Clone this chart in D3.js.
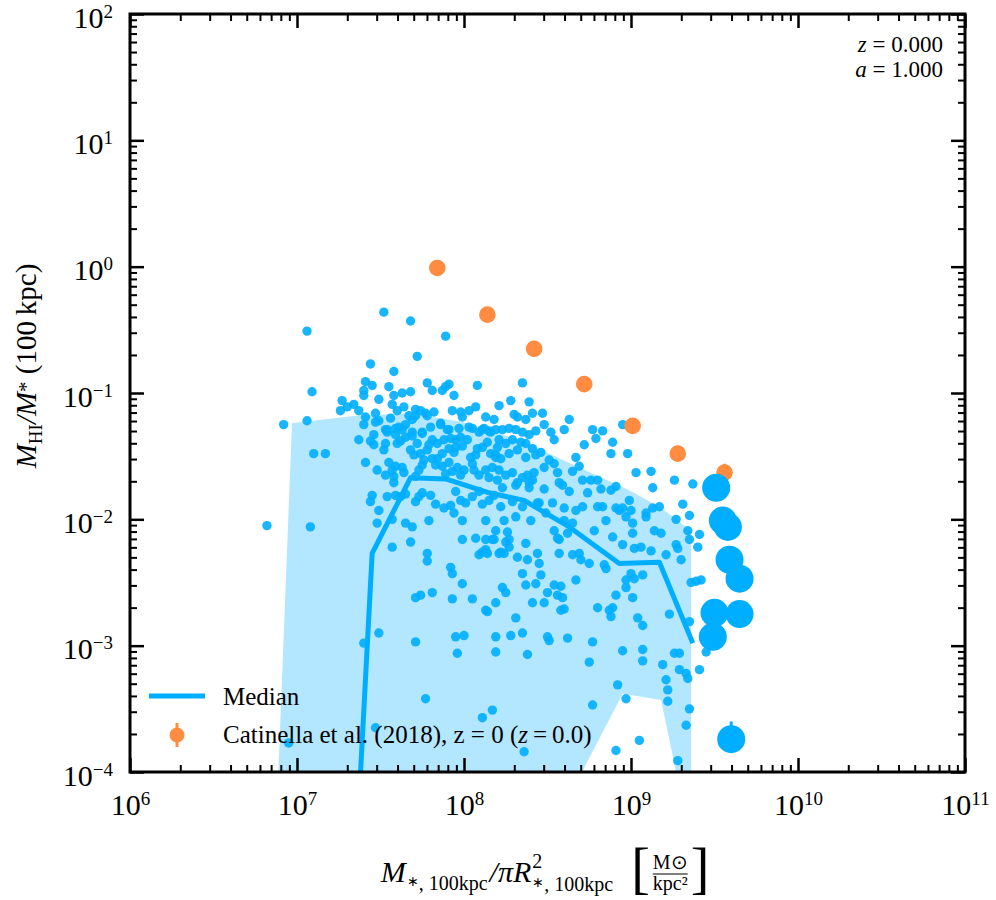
<!DOCTYPE html>
<html>
<head>
<meta charset="utf-8">
<script src="https://cdn.jsdelivr.net/npm/d3@7"></script>
<style>
  body { margin: 0; background: #fff; }
  text { font-family: "Liberation Serif", "Times New Roman", serif; fill: #000; }
</style>
</head>
<body>
<svg id="chart" width="996" height="900"></svg>
<script>
//All values are log10
//[log10 surface density, log10 HI fraction] for each galaxy
const galaxies = [
  [7.52,-0.36],[7.68,-0.43],[7.06,-0.51],[7.89,-0.55],[7.72,-0.71],[7.44,-0.77],[7.58,-0.83],[7.09,-0.99],
  [7.41,-0.91],[7.40,-0.98],[7.40,-1.02],[7.45,-0.94],[7.55,-0.95],[7.63,-1.00],[7.68,-0.99],[7.78,-0.92],
  [7.81,-0.98],[7.89,-0.95],[7.91,-0.93],[7.87,-0.98],[7.94,-1.02],[8.08,-0.94],[7.27,-1.06],[7.30,-1.11],
  [7.26,-1.14],[7.34,-1.09],[7.37,-1.14],[7.49,-1.05],[7.58,-1.02],[7.41,-1.19],[7.40,-1.25],[7.47,-1.16],
  [7.49,-1.22],[6.92,-1.25],[7.06,-1.22],[7.57,-1.09],[7.60,-1.14],[7.64,-1.11],[7.67,-1.18],[7.71,-1.13],
  [7.71,-1.18],[7.74,-1.14],[7.69,-1.21],[7.56,-1.20],[7.53,-1.29],[7.54,-1.31],[7.37,-1.37],[7.44,-1.38],
  [7.46,-1.33],[7.59,-1.33],[7.61,-1.27],[7.63,-1.29],[7.65,-1.35],[7.69,-1.34],[7.53,-1.40],[7.60,-1.40],
  [7.77,-1.16],[7.78,-1.18],[7.82,-1.15],[7.86,-1.25],[7.90,-1.29],[7.93,-1.14],[7.98,-1.15],[7.99,-1.19],
  [8.03,-1.14],[8.07,-1.11],[8.13,-1.19],[8.18,-1.21],[7.75,-1.32],[7.81,-1.37],[7.84,-1.40],[7.92,-1.36],
  [7.95,-1.37],[7.98,-1.35],[8.05,-1.28],[8.11,-1.29],[8.15,-1.30],[8.19,-1.29],[7.10,-1.48],[7.17,-1.48],
  [7.41,-1.55],[7.68,-1.45],[7.70,-1.49],[7.74,-1.48],[7.78,-1.45],[7.81,-1.52],[7.84,-1.52],[7.87,-1.48],
  [7.91,-1.44],[7.95,-1.43],[7.99,-1.42],[8.04,-1.51],[8.07,-1.49],[8.11,-1.43],[8.16,-1.48],[8.19,-1.51],
  [7.55,-1.55],[7.57,-1.61],[7.58,-1.66],[7.58,-1.71],[7.59,-1.58],[7.63,-1.59],[7.71,-1.66],[7.76,-1.53],
  [7.75,-1.57],[7.87,-1.58],[7.89,-1.64],[7.93,-1.62],[7.96,-1.59],[8.00,-1.61],[8.05,-1.56],[8.09,-1.65],
  [8.13,-1.61],[8.17,-1.59],[8.20,-1.69],[7.45,-1.81],[7.44,-1.86],[7.49,-1.93],[7.48,-2.03],[7.54,-1.82],
  [7.59,-1.81],[7.62,-1.82],[7.65,-1.80],[7.71,-1.86],[7.73,-1.82],[7.75,-1.79],[7.80,-1.81],[7.83,-1.88],
  [7.88,-1.91],[7.92,-1.89],[7.95,-1.78],[7.98,-1.85],[8.01,-1.87],[8.05,-1.82],[8.09,-1.78],[8.11,-1.88],
  [8.15,-1.85],[8.18,-1.81],[7.57,-2.00],[7.65,-2.03],[7.69,-2.06],[7.79,-2.01],[7.94,-1.95],[7.99,-2.01],
  [8.07,-2.15],[8.13,-2.16],[8.17,-2.16],[7.99,-2.16],[7.68,-2.18],[7.57,-2.22],[6.82,-2.05],[7.08,-2.06],
  [8.35,-0.92],[8.28,-1.06],[8.39,-1.07],[8.41,-1.16],[8.32,-1.19],[8.37,-1.21],[8.23,-1.29],[8.27,-1.28],
  [8.31,-1.29],[8.35,-1.31],[8.39,-1.33],[8.43,-1.30],[8.21,-1.37],[8.25,-1.40],[8.29,-1.37],[8.34,-1.39],
  [8.37,-1.40],[8.41,-1.44],[8.19,-1.49],[8.22,-1.52],[8.27,-1.48],[8.32,-1.45],[8.37,-1.51],[8.43,-1.49],
  [8.21,-1.61],[8.25,-1.65],[8.29,-1.63],[8.35,-1.67],[8.38,-1.65],[8.41,-1.69],[8.23,-1.75],[8.31,-1.73],
  [8.39,-1.75],[8.22,-1.90],[8.29,-1.86],[8.35,-1.90],[8.44,-1.87],[8.24,-2.01],[8.31,-1.98],[8.40,-2.01],
  [8.26,-2.10],[8.37,-2.19],[8.27,-2.22],[8.22,-2.26],[8.24,-2.27],[8.47,-1.16],[8.63,-1.21],[8.52,-1.31],
  [8.77,-1.29],[8.83,-1.30],[8.79,-1.36],[8.95,-1.25],[8.89,-1.39],[8.88,-1.48],[8.98,-1.48],[9.03,-1.63],
  [9.12,-1.62],[9.13,-1.75],[9.26,-1.69],[9.37,-1.72],[8.46,-1.47],[8.51,-1.53],[8.54,-1.56],[8.48,-1.59],
  [8.56,-1.63],[8.65,-1.62],[8.67,-1.51],[8.69,-1.58],[8.42,-1.63],[8.32,-1.71],[8.39,-1.71],[8.57,-1.71],
  [8.63,-1.78],[8.59,-1.73],[8.48,-1.76],[8.71,-1.69],[8.76,-1.69],[8.80,-1.69],[8.74,-1.79],[8.82,-1.76],
  [8.88,-1.77],[8.91,-1.74],[8.99,-1.85],[8.95,-1.91],[9.00,-1.93],[9.13,-1.91],[9.17,-1.90],[9.09,-1.95],
  [9.31,-1.88],[9.35,-1.97],[9.27,-2.00],[9.41,-2.12],[8.67,-1.93],[8.71,-1.90],[8.80,-1.90],[8.83,-1.90],
  [8.91,-1.91],[8.93,-1.93],[8.97,-1.98],[9.01,-2.03],[8.60,-1.91],[8.60,-2.01],[8.65,-2.03],[8.54,-2.09],
  [8.56,-2.15],[8.62,-2.11],[8.49,-1.95],[8.45,-1.87],[8.53,-1.87],[8.78,-2.09],[8.85,-2.01],[8.89,-2.14],
  [9.01,-2.11],[9.09,-1.98],[9.14,-2.09],[9.18,-2.11],[9.27,-2.20],[9.34,-2.09],[9.35,-2.16],[8.13,-2.01],
  [8.19,-2.09],[8.27,-2.16],[9.40,-2.22],[8.18,-2.16],[8.13,-2.24],[8.25,-2.18],[8.32,-2.30],[8.44,-2.27],
  [8.38,-2.32],[8.35,-2.43],[8.45,-2.35],[8.46,-2.44],[8.57,-2.16],[8.57,-2.27],[8.65,-2.28],[8.69,-2.27],
  [8.75,-2.35],[8.70,-2.32],[8.95,-2.20],[9.02,-2.23],[9.06,-2.22],[9.12,-2.25],[9.21,-2.28],[9.28,-2.23],
  [9.30,-2.32],[8.84,-2.36],[8.85,-2.39],[9.00,-2.43],[9.02,-2.47],[9.07,-2.44],[8.97,-2.48],[8.67,-2.48],
  [8.91,-2.60],[8.97,-2.54],[9.01,-2.62],[8.13,-2.72],[8.23,-2.54],[8.25,-2.58],[8.31,-2.78],[8.37,-2.52],
  [8.43,-2.51],[8.41,-2.66],[8.48,-2.66],[8.50,-2.58],[8.54,-2.52],[8.58,-2.53],[8.56,-2.60],[8.58,-2.72],
  [8.60,-2.71],[8.59,-2.62],[8.80,-2.70],[8.87,-2.72],[8.88,-2.77],[8.89,-2.70],[9.04,-2.78],[9.07,-2.84],
  [9.23,-2.75],[9.35,-2.81],[9.36,-2.50],[9.39,-2.49],[9.42,-2.48],[8.19,-2.93],[8.28,-2.92],[8.35,-2.90],
  [8.50,-2.93],[8.51,-2.96],[8.62,-2.94],[8.77,-2.97],[8.19,-3.05],[8.38,-3.07],[8.75,-3.13],[8.95,-3.04],
  [9.07,-3.03],[9.07,-3.12],[9.19,-3.15],[9.26,-3.06],[9.29,-3.06],[9.29,-3.19],[9.33,-3.22],[9.34,-3.26],
  [9.21,-3.27],[9.22,-3.35],[9.22,-3.44],[9.41,-3.19],[9.45,-3.05],[8.92,-3.31],[8.97,-3.42],[8.77,-3.47],
  [8.17,-3.51],[8.11,-3.57],[9.05,-3.75],[8.91,-3.83],[9.35,-3.50],[9.33,-3.63],[9.28,-3.91],[8.36,-3.84],
  [7.78,-2.27],[7.78,-2.33],[8.11,-2.26],[8.14,-2.27],[8.09,-2.28],[8.21,-2.27],[7.92,-2.38],[7.93,-2.43],
  [7.99,-2.51],[8.05,-2.63],[7.93,-2.63],[7.81,-2.58],[7.71,-2.62],[7.74,-2.60],[8.14,-2.73],[8.19,-2.66],
  [7.49,-2.90],[7.40,-2.98],[7.71,-2.97],[7.95,-2.93],[8.00,-2.92],[7.96,-3.06],[7.77,-3.42],[7.47,-3.65],
  [6.95,-3.77],
  [7.47,-1.23],[7.54,-1.29],[7.59,-1.28],[7.65,-1.25],[7.69,-1.31],[7.75,-1.31],[7.80,-1.27],[7.86,-1.24],
  [7.91,-1.29],[7.97,-1.28],[8.03,-1.27],[8.09,-1.31],[8.12,-1.28],[8.16,-1.31],[7.46,-1.41],[7.52,-1.45],
  [7.62,-1.38],[7.72,-1.40],[7.79,-1.41],[7.88,-1.37],[7.94,-1.47],[8.02,-1.37],[8.08,-1.44],[8.14,-1.39],
  [8.20,-1.43],[7.48,-1.61],[7.53,-1.65],[7.64,-1.63],[7.73,-1.61],[7.83,-1.57],[7.91,-1.55],[7.98,-1.65],
  [8.06,-1.61],[8.15,-1.67],[8.21,-1.10],[8.30,-1.17],[8.48,-1.25],[8.54,-1.37],[8.60,-1.29],[8.72,-1.41]
];

//Median line (first bin drops far below the axis)
const medianX = [7.22, 7.45, 7.68, 7.89, 8.15, 8.36, 8.63, 8.93, 9.17, 9.37];
const medianY = [-8.00, -2.27, -1.67, -1.68, -1.79, -1.85, -2.06, -2.35, -2.34, -2.98];

//16-84 percentile band
const bandUpperX = [6.97, 7.35, 7.68, 7.99, 8.33, 8.69, 8.99, 9.18, 9.36];
const bandUpperY = [-1.24, -1.18, -1.16, -1.23, -1.37, -1.59, -1.77, -1.91, -2.09];
const bandLowerX = [6.77, 8.33, 8.55, 8.95, 9.18, 9.36];
const bandLowerY = [-8.00, -8.00, -4.40, -3.38, -3.43, -4.57];

//Catinella et al. (2018) observations
const catinellaX = [7.84, 8.14, 8.42, 8.72, 9.01, 9.28, 9.56];
const catinellaY = [-0.01, -0.38, -0.65, -0.93, -1.26, -1.48, -1.63];
const catinellaErr = [0.05, 0.05, 0.05, 0.05, 0.05, 0.05, 0.07];

//Galaxies beyond the last bin, drawn large
const bigX = [9.51, 9.55, 9.58, 9.59, 9.65, 9.50, 9.65, 9.49, 9.60];
const bigY = [-1.75, -2.01, -2.06, -2.32, -2.47, -2.74, -2.75, -2.93, -3.74];
const bigErrUp = [0, 0, 0, 0, 0, 0, 0, 0, 0.14];

//Tick decades
const xDecades = [6, 7, 8, 9, 10, 11];
const yDecades = [-4, -3, -2, -1, 0, 1, 2];

const blue = "#00aeff";
const orange = "#ff8c40";
const p10 = v => Math.pow(10, v);

//Creating the chart
const svg = d3.select("#chart");
const plotLeft = 130, plotRight = 965, plotTop = 14, plotBottom = 772;

const x = d3.scaleLog().domain([1e6, 1e11]).range([plotLeft, plotRight]);
const y = d3.scaleLog().domain([1e-4, 1e2]).range([plotBottom, plotTop]);

svg.append("rect").attr("width", 996).attr("height", 900).attr("fill", "#fff");

svg.append("clipPath").attr("id", "plotClip")
  .append("rect")
  .attr("x", plotLeft).attr("y", plotTop)
  .attr("width", plotRight - plotLeft).attr("height", plotBottom - plotTop);

const plot = svg.append("g").attr("clip-path", "url(#plotClip)");

//Shaded band: upper edge left to right, then lower edge back
const bandPts = bandUpperX.map((v, i) => [x(p10(v)), y(p10(bandUpperY[i]))])
  .concat(bandLowerX.map((v, i) => [x(p10(v)), y(p10(bandLowerY[i]))]).reverse());
plot.append("path")
  .attr("d", d3.line()(bandPts) + "Z")
  .attr("fill", blue)
  .attr("fill-opacity", 0.3);

//Scatter of galaxies
plot.selectAll("circle.gal")
  .data(galaxies)
  .join("circle")
  .attr("class", "gal")
  .attr("cx", d => x(p10(d[0])))
  .attr("cy", d => y(p10(d[1])))
  .attr("r", 4.7)
  .attr("fill", blue)
  .attr("fill-opacity", 0.9);

//Median line
plot.append("path")
  .datum(d3.range(medianX.length))
  .attr("d", d3.line().x(i => x(p10(medianX[i]))).y(i => y(p10(medianY[i]))))
  .attr("fill", "none")
  .attr("stroke", blue)
  .attr("stroke-width", 5)
  .attr("stroke-linejoin", "round");

//Observations with error bars
const cat = plot.append("g");
cat.selectAll("line")
  .data(d3.range(catinellaX.length))
  .join("line")
  .attr("x1", i => x(p10(catinellaX[i])))
  .attr("x2", i => x(p10(catinellaX[i])))
  .attr("y1", i => y(p10(catinellaY[i] - catinellaErr[i])))
  .attr("y2", i => y(p10(catinellaY[i] + catinellaErr[i])))
  .attr("stroke", orange)
  .attr("stroke-width", 3);
cat.selectAll("circle")
  .data(d3.range(catinellaX.length))
  .join("circle")
  .attr("cx", i => x(p10(catinellaX[i])))
  .attr("cy", i => y(p10(catinellaY[i])))
  .attr("r", 8.3)
  .attr("fill", orange);

//Large points
const big = plot.append("g");
big.selectAll("line")
  .data(d3.range(bigX.length).filter(i => bigErrUp[i] > 0))
  .join("line")
  .attr("x1", i => x(p10(bigX[i])))
  .attr("x2", i => x(p10(bigX[i])))
  .attr("y1", i => y(p10(bigY[i])))
  .attr("y2", i => y(p10(bigY[i] + bigErrUp[i])))
  .attr("stroke", blue)
  .attr("stroke-width", 3);
big.selectAll("circle")
  .data(d3.range(bigX.length))
  .join("circle")
  .attr("cx", i => x(p10(bigX[i])))
  .attr("cy", i => y(p10(bigY[i])))
  .attr("r", 14)
  .attr("fill", blue);

//Axes: inward ticks on all four sides
const minorOf = decades => decades.slice(0, -1)
  .flatMap(d => d3.range(2, 10).map(k => k * p10(d)));

function addAxis(axisFn, scale, values, size, strokeW, transform) {
  const g = svg.append("g")
    .attr("transform", transform)
    .call(axisFn(scale).tickValues(values).tickSize(-size).tickSizeOuter(0).tickFormat(""));
  g.select(".domain").remove();
  g.selectAll(".tick text").remove();
  g.selectAll(".tick line").attr("stroke", "#000").attr("stroke-width", strokeW);
  return g;
}

const xMajor = xDecades.map(p10), yMajor = yDecades.map(p10);
const xMinor = minorOf(xDecades), yMinor = minorOf(yDecades);

const xAxisG = addAxis(d3.axisBottom, x, xMajor, 14, 2.5, `translate(0,${plotBottom})`);
addAxis(d3.axisBottom, x, xMinor, 7, 2, `translate(0,${plotBottom})`);
addAxis(d3.axisTop, x, xMajor, 14, 2.5, `translate(0,${plotTop})`);
addAxis(d3.axisTop, x, xMinor, 7, 2, `translate(0,${plotTop})`);
const yAxisG = addAxis(d3.axisLeft, y, yMajor, 14, 2.5, `translate(${plotLeft},0)`);
addAxis(d3.axisLeft, y, yMinor, 7, 2, `translate(${plotLeft},0)`);
addAxis(d3.axisRight, y, yMajor, 14, 2.5, `translate(${plotRight},0)`);
addAxis(d3.axisRight, y, yMinor, 7, 2, `translate(${plotRight},0)`);

//Frame
svg.append("rect")
  .attr("x", plotLeft).attr("y", plotTop)
  .attr("width", plotRight - plotLeft).attr("height", plotBottom - plotTop)
  .attr("fill", "none")
  .attr("stroke", "#000")
  .attr("stroke-width", 3);

//Tick labels as 10 with a superscript exponent
const expText = d => {
  const e = Math.round(Math.log10(d));
  return e < 0 ? "\u2212" + Math.abs(e) : String(e);
};
function powerLabel(sel) {
  sel.append("tspan").text("10");
  sel.append("tspan").attr("dy", -10).attr("font-size", 19).text(d => expText(d));
}

xAxisG.selectAll(".tick").append("text")
  .attr("y", 43)
  .attr("text-anchor", "middle")
  .attr("font-size", 30)
  .call(powerLabel);

yAxisG.selectAll(".tick").append("text")
  .attr("x", -17)
  .attr("y", 13)
  .attr("text-anchor", "end")
  .attr("font-size", 30)
  .call(powerLabel);

//Y axis label
const yLab = svg.append("text")
  .attr("transform", "translate(36,366) rotate(-90)")
  .attr("text-anchor", "middle")
  .attr("font-size", 29);
yLab.append("tspan").attr("font-style", "italic").text("M");
yLab.append("tspan").attr("font-size", 19).attr("dy", 6).text("HI");
yLab.append("tspan").attr("font-style", "italic").attr("dy", -6).text("/M");
yLab.append("tspan").attr("font-size", 21).attr("dy", -3).text("*");
yLab.append("tspan").attr("dy", 3).text(" (100\u2009kpc)");

//X axis label, laid out piece by piece
const xLab = svg.append("g");
let cursor = 0;
function piece(txt, size, dy, italic) {
  const t = xLab.append("text")
    .attr("x", cursor).attr("y", dy)
    .attr("font-size", size)
    .attr("font-style", italic ? "italic" : "normal")
    .text(txt);
  cursor += t.node().getComputedTextLength();
  return t;
}
function stacked(topTxt, topDy, botTxt, botDy, size, center) {
  const a = xLab.append("text").attr("y", topDy).attr("font-size", size).text(topTxt);
  const b = xLab.append("text").attr("y", botDy).attr("font-size", size).text(botTxt);
  const wa = a.node().getComputedTextLength(), wb = b.node().getComputedTextLength();
  const w = Math.max(wa, wb);
  a.attr("x", center ? cursor + (w - wa) / 2 : cursor);
  b.attr("x", center ? cursor + (w - wb) / 2 : cursor);
  cursor += w;
  return w;
}
piece("M", 30, 0, true);
cursor += 1;
piece("\u2217", 14, 4, false);
piece(", 100kpc", 20, 8, false);
cursor += 2;
piece("/\u03c0R", 30, 0, true);
cursor += 1;
const supStart = cursor;
stacked("2", -14, "", 9, 20, false);
cursor = supStart;
piece("\u2217", 14, 5, false);
piece(", 100kpc", 20, 9, false);
cursor += 18;
piece("[", 56, 5, false);
cursor += 3;
const fracStart = cursor;
const fracW = stacked("M\u2299", -13, "kpc\u00b2", 8, 20, true);
xLab.append("line")
  .attr("x1", fracStart).attr("x2", fracStart + fracW)
  .attr("y1", -8).attr("y2", -8)
  .attr("stroke", "#000").attr("stroke-width", 1.2);
cursor += 3;
piece("]", 56, 5, false);
xLab.attr("transform", `translate(${545 - cursor / 2},882)`);

//Redshift annotation
const info = svg.append("g");
[["z", " = 0.000", 52], ["a", " = 1.000", 77]].forEach(r => {
  const t = info.append("text").attr("x", 943).attr("y", r[2]).attr("text-anchor", "end").attr("font-size", 23);
  t.append("tspan").attr("font-style", "italic").text(r[0]);
  t.append("tspan").text(r[1]);
});

//Legend
const legend = svg.append("g");
legend.append("line")
  .attr("x1", 149).attr("x2", 205).attr("y1", 696).attr("y2", 696)
  .attr("stroke", blue).attr("stroke-width", 5);
legend.append("text").attr("x", 223).attr("y", 705).attr("font-size", 25).text("Median");
legend.append("line")
  .attr("x1", 177).attr("x2", 177).attr("y1", 723).attr("y2", 747)
  .attr("stroke", orange).attr("stroke-width", 3);
legend.append("circle").attr("cx", 177).attr("cy", 735).attr("r", 7.5).attr("fill", orange);
const catLabel = legend.append("text").attr("x", 223).attr("y", 743).attr("font-size", 25);
catLabel.append("tspan").text("Catinella et al. (2018), z = 0 (");
catLabel.append("tspan").attr("font-style", "italic").text("z");
catLabel.append("tspan").text("\u2009=\u20090.0)");
</script>
</body>
</html>
